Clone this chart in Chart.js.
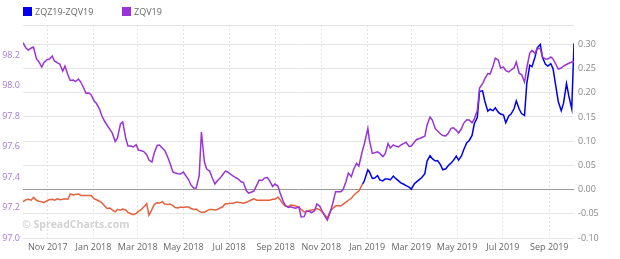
<!DOCTYPE html>
<html><head><meta charset="utf-8">
<script src="https://cdn.jsdelivr.net/npm/chart.js@4/dist/chart.umd.min.js"></script>
<style>html,body{margin:0;padding:0;background:#fff;}#wrap{width:620px;height:259px;position:relative;}</style>
</head><body><div id="wrap"><canvas id="c"></canvas></div>
<script>
const dates = ['2017-09-29',
'2017-10-03','2017-10-06','2017-10-10','2017-10-13','2017-10-17','2017-10-20','2017-10-24','2017-10-27','2017-10-31','2017-11-03',
'2017-11-07','2017-11-10','2017-11-14','2017-11-17','2017-11-21','2017-11-24','2017-11-28','2017-12-01','2017-12-05','2017-12-08',
'2017-12-12','2017-12-15','2017-12-19','2017-12-22','2017-12-26','2017-12-29','2018-01-02','2018-01-05','2018-01-09','2018-01-12',
'2018-01-16','2018-01-19','2018-01-23','2018-01-26','2018-01-30','2018-02-02','2018-02-06','2018-02-09','2018-02-13','2018-02-16',
'2018-02-20','2018-02-23','2018-02-27','2018-03-02','2018-03-06','2018-03-09','2018-03-13','2018-03-16','2018-03-20','2018-03-23',
'2018-03-27','2018-03-30','2018-04-03','2018-04-06','2018-04-10','2018-04-13','2018-04-17','2018-04-20','2018-04-24','2018-04-27',
'2018-05-01','2018-05-04','2018-05-08','2018-05-11','2018-05-15','2018-05-18','2018-05-22','2018-05-25','2018-05-29','2018-06-01',
'2018-06-05','2018-06-08','2018-06-12','2018-06-15','2018-06-19','2018-06-22','2018-06-26','2018-06-29','2018-07-03','2018-07-06',
'2018-07-10','2018-07-13','2018-07-17','2018-07-20','2018-07-24','2018-07-27','2018-07-31','2018-08-03','2018-08-07','2018-08-10',
'2018-08-14','2018-08-17','2018-08-21','2018-08-24','2018-08-28','2018-08-31','2018-09-04','2018-09-07','2018-09-11','2018-09-14',
'2018-09-18','2018-09-21','2018-09-25','2018-09-28','2018-10-02','2018-10-05','2018-10-09','2018-10-12','2018-10-16','2018-10-19',
'2018-10-23','2018-10-26','2018-10-30','2018-11-02','2018-11-06','2018-11-09','2018-11-13','2018-11-16','2018-11-20','2018-11-23',
'2018-11-27','2018-11-30','2018-12-04','2018-12-07','2018-12-11','2018-12-14','2018-12-18','2018-12-21','2018-12-26','2018-12-28',
'2019-01-02','2019-01-04','2019-01-08','2019-01-11','2019-01-15','2019-01-18','2019-01-22','2019-01-25','2019-01-29','2019-02-01',
'2019-02-05','2019-02-08','2019-02-12','2019-02-15','2019-02-19','2019-02-22','2019-02-26','2019-03-01','2019-03-05','2019-03-08',
'2019-03-12','2019-03-15','2019-03-19','2019-03-22','2019-03-26','2019-03-29','2019-04-02','2019-04-05','2019-04-09','2019-04-12',
'2019-04-16','2019-04-19','2019-04-23','2019-04-26','2019-04-30','2019-05-03','2019-05-07','2019-05-10','2019-05-14','2019-05-17',
'2019-05-21','2019-05-24','2019-05-28','2019-05-31','2019-06-04','2019-06-07','2019-06-11','2019-06-14','2019-06-18','2019-06-21',
'2019-06-25','2019-06-28','2019-07-02','2019-07-05','2019-07-09','2019-07-12','2019-07-16','2019-07-19','2019-07-23','2019-07-26',
'2019-07-30','2019-08-02','2019-08-06','2019-08-09','2019-08-13','2019-08-16','2019-08-20','2019-08-23','2019-08-27','2019-08-30',
'2019-09-03','2019-09-06','2019-09-10','2019-09-13','2019-09-17','2019-09-20','2019-09-24','2019-09-27','2019-10-01','2019-10-04'];

const spread = [-0.025,
-0.021,-0.020,-0.022,-0.016,-0.022,-0.024,-0.025,-0.027,-0.023,-0.021,
-0.020,-0.022,-0.019,-0.021,-0.020,-0.019,-0.020,-0.009,-0.011,-0.010,
-0.009,-0.012,-0.012,-0.012,-0.012,-0.012,-0.019,-0.021,-0.024,-0.027,
-0.034,-0.039,-0.038,-0.042,-0.046,-0.041,-0.042,-0.040,-0.042,-0.047,
-0.050,-0.052,-0.049,-0.045,-0.041,-0.036,-0.029,-0.053,-0.041,-0.031,
-0.027,-0.028,-0.025,-0.030,-0.031,-0.030,-0.033,-0.037,-0.038,-0.036,
-0.037,-0.036,-0.036,-0.039,-0.041,-0.040,-0.045,-0.047,-0.047,-0.044,
-0.041,-0.041,-0.042,-0.041,-0.038,-0.036,-0.029,-0.029,-0.028,-0.028,
-0.026,-0.026,-0.027,-0.028,-0.026,-0.024,-0.021,-0.019,-0.022,-0.022,
-0.022,-0.022,-0.022,-0.022,-0.020,-0.020,-0.016,-0.021,-0.030,-0.034,
-0.035,-0.032,-0.033,-0.034,-0.037,-0.041,-0.046,-0.045,-0.043,-0.042,
-0.041,-0.039,-0.042,-0.046,-0.053,-0.059,-0.044,-0.039,-0.034,-0.033,
-0.034,-0.030,-0.026,-0.022,-0.018,-0.012,-0.006,-0.003,0.012,0.017,
0.041,0.037,0.023,0.024,0.029,0.020,0.018,0.022,0.022,0.020,
0.028,0.023,0.018,0.014,0.011,0.008,0.005,0.001,0.012,0.016,
0.021,0.025,0.033,0.059,0.070,0.064,0.059,0.060,0.051,0.041,
0.043,0.049,0.055,0.060,0.069,0.061,0.070,0.083,0.097,0.101,
0.112,0.136,0.149,0.203,0.204,0.183,0.162,0.166,0.163,0.169,
0.160,0.156,0.154,0.138,0.152,0.156,0.167,0.183,0.166,0.157,
0.153,0.219,0.257,0.254,0.274,0.293,0.300,0.273,0.259,0.255,
0.260,0.250,0.211,0.182,0.163,0.178,0.219,0.194,0.167,0.302];

const zqv19 = [98.281,
98.246,98.233,98.246,98.252,98.174,98.158,98.121,98.151,98.170,98.172,
98.193,98.161,98.148,98.141,98.095,98.128,98.069,98.033,98.036,98.026,
98.043,98.023,97.984,97.949,97.951,97.938,97.898,97.882,97.846,97.803,
97.764,97.741,97.711,97.689,97.633,97.656,97.748,97.761,97.656,97.603,
97.603,97.597,97.612,97.577,97.572,97.567,97.546,97.511,97.498,97.557,
97.607,97.610,97.588,97.574,97.531,97.492,97.433,97.426,97.422,97.420,
97.433,97.410,97.382,97.348,97.326,97.328,97.407,97.695,97.498,97.452,
97.439,97.400,97.354,97.374,97.393,97.413,97.439,97.433,97.418,97.407,
97.395,97.387,97.369,97.364,97.310,97.295,97.302,97.308,97.348,97.380,
97.377,97.393,97.397,97.374,97.338,97.354,97.341,97.295,97.241,97.213,
97.201,97.205,97.199,97.195,97.205,97.138,97.140,97.177,97.174,97.167,
97.179,97.223,97.208,97.177,97.140,97.118,97.174,97.223,97.304,97.304,
97.304,97.318,97.372,97.426,97.402,97.449,97.489,97.472,97.577,97.610,
97.718,97.643,97.555,97.559,97.565,97.555,97.534,97.551,97.620,97.590,
97.611,97.603,97.597,97.610,97.621,97.628,97.600,97.603,97.628,97.646,
97.653,97.659,97.667,97.741,97.793,97.774,97.717,97.702,97.682,97.672,
97.669,97.685,97.719,97.723,97.706,97.689,97.718,97.754,97.776,97.774,
97.756,97.780,97.836,97.984,98.012,98.044,98.078,98.075,98.128,98.180,
98.167,98.115,98.121,98.098,98.089,98.102,98.115,98.154,98.079,98.072,
98.023,98.115,98.213,98.230,98.211,98.243,98.243,98.187,98.174,98.174,
98.187,98.174,98.138,98.108,98.115,98.128,98.138,98.146,98.154,98.156];

const tickDates = ['2017-11-01','2018-01-01','2018-03-01','2018-05-01','2018-07-01','2018-09-01','2018-11-01','2019-01-01','2019-03-01','2019-05-01','2019-07-01','2019-09-01'];
const tickLabels = ['Nov 2017','Jan 2018','Mar 2018','May 2018','Jul 2018','Sep 2018','Nov 2018','Jan 2019','Mar 2019','May 2019','Jul 2019','Sep 2019'];
const leftTicks = [97.0,97.2,97.4,97.6,97.8,98.0,98.2];
const rightTicks = [-0.10,-0.05,0.00,0.05,0.10,0.15,0.20,0.25,0.30];
const seriesNames = ['ZQZ19-ZQV19','ZQV19'];

const BLUE = '#0000ee', ORANGE = '#e2623f', PURPLE = '#9a33d8';
const FONT = "'Open Sans', sans-serif";

function toMs(s){const p=s.split('-').map(Number);return Date.UTC(p[0],p[1]-1,p[2]);}
const tickMs = tickDates.map(toMs);

const overlay = {
  id:'overlay',
  beforeDatasetsDraw(chart){
    const c = chart.ctx, a = chart.chartArea;
    c.save();
    c.strokeStyle = '#e3e3e3'; c.lineWidth = 1;
    c.beginPath(); c.moveTo(a.left, a.top + 0.5); c.lineTo(a.right, a.top + 0.5); c.stroke();
    c.fillStyle = '#d2d2d2';
    c.font = "bold 10.5px " + FONT;
    c.textBaseline = 'middle'; c.textAlign = 'left';
    c.fillText('\u00A9 SpreadCharts.com', a.left - 1, 225);
    c.restore();
  },
  afterDraw(chart){
    const c = chart.ctx;
    c.save();
    c.font = "9px " + FONT;
    c.textBaseline = 'middle'; c.textAlign = 'left';
    const items = [[seriesNames[0], BLUE, 23], [seriesNames[1], PURPLE, 122]];
    items.forEach(([t,col,x])=>{
      c.fillStyle = col; c.fillRect(x, 7, 9, 9);
      c.fillStyle = '#666'; c.fillText(t, x + 12, 12);
    });
    c.restore();
  }
};

new Chart(document.getElementById('c'), {
  type:'line',
  data:{
    datasets:[
      {label:seriesNames[0], data:dates.map((d,i)=>({x:toMs(d), y:spread[i]})), yAxisID:'yR', order:1,
       borderColor:BLUE, borderWidth:1.5, pointRadius:0, tension:0,
       segment:{borderColor: ctx => (ctx.p0.parsed.y < 0 || ctx.p1.parsed.y < 0) ? ORANGE : BLUE}},
      {label:seriesNames[1], data:dates.map((d,i)=>({x:toMs(d), y:zqv19[i]})), yAxisID:'yL', order:0,
       borderColor:PURPLE, borderWidth:1.5, pointRadius:0, tension:0}
    ]
  },
  options:{
    responsive:true, maintainAspectRatio:false, animation:false,
    layout:{padding:{top:25,left:0,right:0,bottom:0}},
    plugins:{legend:{display:false}, tooltip:{enabled:false}},
    scales:{
      x:{type:'linear', min:toMs(dates[0]), max:toMs(dates[dates.length-1]),
         afterBuildTicks: s => { s.ticks = tickMs.map(v=>({value:v})); },
         afterFit: s => { s.height = 21; },
         ticks:{autoSkip:false, maxRotation:0, padding:4, color:'#666', font:{family:FONT, size:9},
                callback: v => tickLabels[tickMs.indexOf(v)]},
         grid:{color:'#e4e4e4', drawTicks:false},
         border:{display:false, dash:[2,2]}},
      yL:{position:'left', min:97.0, max:98.397,
          afterBuildTicks: s => { s.ticks = leftTicks.map(v=>({value:v})); },
          afterFit: s => { s.width = 23; },
          ticks:{padding:3, color:'#a57ad8', font:{family:FONT, size:9}, callback: v => v.toFixed(1)},
          grid:{display:false, drawTicks:false}, border:{display:false}},
      yR:{position:'right', min:-0.10, max:0.340,
          afterBuildTicks: s => { s.ticks = rightTicks.map(v=>({value:v})); },
          afterFit: s => { s.width = 46; },
          ticks:{padding:4, color:'#888', font:{family:FONT, size:9}, callback: v => v.toFixed(2)},
          grid:{drawTicks:false, color: ctx => (ctx.tick && Math.abs(ctx.tick.value) < 1e-9) ? '#9a9a9a' : '#e6e6e6'},
          border:{display:false}}
    }
  },
  plugins:[overlay]
});
</script></body></html>
